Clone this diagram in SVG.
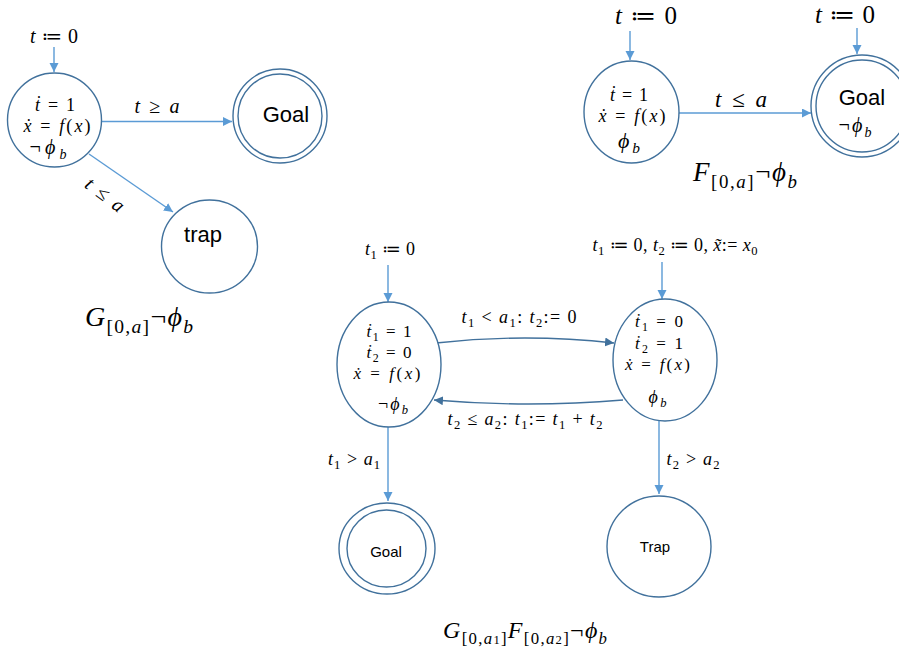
<svg xmlns="http://www.w3.org/2000/svg" width="899" height="652" viewBox="0 0 899 652">
<style>
.node{fill:#fff;stroke:#41719C;stroke-width:1.4}
.e{fill:none;stroke:#5B9BD5;stroke-width:1.4}
.e2{fill:none;stroke:#41719C;stroke-width:1.4}
.m{font-family:"Liberation Serif","DejaVu Serif",serif;text-anchor:middle;fill:#000}
.s{font-family:"Liberation Sans","Open Sans",sans-serif;text-anchor:middle;fill:#000}
.i{font-style:italic}
.sb{font-size:70%;baseline-shift:-0.35em}
</style>
<defs>
<marker id="ah" markerUnits="userSpaceOnUse" markerWidth="10" markerHeight="10" refX="9" refY="4.5" orient="auto"><path d="M0,0 L9,4.5 L0,9 z" fill="#5B9BD5"/></marker>
<marker id="ah2" markerUnits="userSpaceOnUse" markerWidth="10" markerHeight="10" refX="9" refY="4.5" orient="auto"><path d="M0,0 L9,4.5 L0,9 z" fill="#41719C"/></marker>
</defs>
<rect width="899" height="652" fill="#fff"/>

<g id="edges">
<!-- left diagram -->
<line class="e" x1="54" y1="47" x2="54" y2="72" marker-end="url(#ah)"/>
<line class="e" x1="102" y1="121.5" x2="232" y2="121.5" marker-end="url(#ah)"/>
<line class="e" x1="89" y1="154" x2="173" y2="212" marker-end="url(#ah)"/>
<text class="m" x="54" y="43" font-size="20" textLength="48"><tspan class="i">t</tspan> ≔ 0</text>
<text class="m" x="157" y="113" font-size="20" textLength="45"><tspan class="i">t</tspan> ≥ <tspan class="i">a</tspan></text>
<text class="m" x="0" y="0" font-size="20" textLength="44" transform="translate(101,200) rotate(37)"><tspan class="i">t</tspan> ≤ <tspan class="i">a</tspan></text>
<text class="m" x="139" y="326" font-size="28" textLength="108"><tspan class="i">G</tspan><tspan class="sb">[0,<tspan class="i">a</tspan>]</tspan>¬<tspan class="i">ϕ</tspan><tspan class="i sb">b</tspan></text>

<!-- top right diagram -->
<text class="m" x="646" y="24" font-size="25" textLength="62"><tspan class="i">t</tspan> ≔ 0</text>
<line class="e" x1="630" y1="31" x2="630" y2="60" marker-end="url(#ah)"/>
<text class="m" x="845" y="23" font-size="25" textLength="60"><tspan class="i">t</tspan> ≔ 0</text>
<line class="e" x1="857" y1="28" x2="857" y2="54" marker-end="url(#ah)"/>
<line class="e" x1="679" y1="113" x2="811" y2="113" marker-end="url(#ah)"/>
<text class="m" x="741" y="107" font-size="23" textLength="52"><tspan class="i">t</tspan> ≤ <tspan class="i">a</tspan></text>
<text class="m" x="745" y="181" font-size="27" textLength="104"><tspan class="i">F</tspan><tspan class="sb">[0,<tspan class="i">a</tspan>]</tspan>¬<tspan class="i">ϕ</tspan><tspan class="i sb">b</tspan></text>

<!-- bottom diagram -->
<text class="m" x="390" y="255" font-size="18" textLength="50"><tspan class="i">t</tspan><tspan class="sb">1</tspan> ≔ 0</text>
<line class="e" x1="388" y1="265" x2="388" y2="302" marker-end="url(#ah)"/>
<text class="m" x="675" y="251" font-size="18" textLength="165"><tspan class="i">t</tspan><tspan class="sb">1</tspan> ≔ 0, <tspan class="i">t</tspan><tspan class="sb">2</tspan> ≔ 0, <tspan class="i">x̃</tspan>:= <tspan class="i">x</tspan><tspan class="sb">0</tspan></text>
<line class="e" x1="662" y1="262" x2="662" y2="299" marker-end="url(#ah)"/>
<path class="e2" d="M436,343 Q525,333 614,343" marker-end="url(#ah2)"/>
<text class="m" x="519" y="323" font-size="18" textLength="115"><tspan class="i">t</tspan><tspan class="sb">1</tspan> &lt; <tspan class="i">a</tspan><tspan class="sb">1</tspan>: <tspan class="i">t</tspan><tspan class="sb">2</tspan>:= 0</text>
<path class="e2" d="M623,400 Q528,408 434,400" marker-end="url(#ah2)"/>
<text class="m" x="525" y="425" font-size="18" textLength="155"><tspan class="i">t</tspan><tspan class="sb">2</tspan> ≤ <tspan class="i">a</tspan><tspan class="sb">2</tspan>: <tspan class="i">t</tspan><tspan class="sb">1</tspan>:= <tspan class="i">t</tspan><tspan class="sb">1</tspan> + <tspan class="i">t</tspan><tspan class="sb">2</tspan></text>
<line class="e" x1="388" y1="427" x2="388" y2="501" marker-end="url(#ah)"/>
<text class="m" x="354" y="465" font-size="18" textLength="52"><tspan class="i">t</tspan><tspan class="sb">1</tspan> &gt; <tspan class="i">a</tspan><tspan class="sb">1</tspan></text>
<line class="e" x1="659" y1="421" x2="659" y2="494" marker-end="url(#ah)"/>
<text class="m" x="693" y="465" font-size="18" textLength="53"><tspan class="i">t</tspan><tspan class="sb">2</tspan> &gt; <tspan class="i">a</tspan><tspan class="sb">2</tspan></text>
<text class="m" x="525" y="638" font-size="24" textLength="164"><tspan class="i">G</tspan><tspan class="sb">[0,<tspan class="i">a</tspan><tspan style="font-size:75%">1</tspan>]</tspan><tspan class="i">F</tspan><tspan class="sb">[0,<tspan class="i">a</tspan><tspan style="font-size:75%">2</tspan>]</tspan>¬<tspan class="i">ϕ</tspan><tspan class="i sb">b</tspan></text>
</g>

<g id="n-left-init">
<ellipse class="node" cx="54.5" cy="120" rx="47" ry="47"/>
<text class="m" x="55" y="111" font-size="18" textLength="40"><tspan class="i">ṫ</tspan> = 1</text>
<text class="m" x="57" y="132" font-size="18" textLength="67"><tspan class="i">ẋ</tspan> = <tspan class="i">f</tspan>(<tspan class="i">x</tspan>)</text>
<text class="m" x="48" y="154" font-size="20" textLength="37">¬<tspan class="i">ϕ</tspan><tspan class="i sb">b</tspan></text>
</g>
<g id="n-left-goal">
<circle class="node" cx="280" cy="116" r="47"/>
<circle class="node" cx="280" cy="116" r="42"/>
<text class="s" x="286" y="122" font-size="22">Goal</text>
</g>
<g id="n-left-trap">
<ellipse class="node" cx="209.5" cy="246.5" rx="48" ry="46.5"/>
<text class="s" x="203" y="242" font-size="22">trap</text>
</g>

<g id="n-tr-init">
<ellipse class="node" cx="631.5" cy="112" rx="47.5" ry="51"/>
<text class="m" x="629" y="101" font-size="18" textLength="38"><tspan class="i">ṫ</tspan> = 1</text>
<text class="m" x="632" y="122" font-size="18" textLength="67"><tspan class="i">ẋ</tspan> = <tspan class="i">f</tspan>(<tspan class="i">x</tspan>)</text>
<text class="m" x="629" y="148" font-size="22" textLength="22"><tspan class="i">ϕ</tspan><tspan class="i sb">b</tspan></text>
</g>
<g id="n-tr-goal">
<ellipse class="node" cx="862" cy="106" rx="51" ry="51"/>
<ellipse class="node" cx="862" cy="106" rx="46" ry="46"/>
<text class="s" x="862" y="105" font-size="22">Goal</text>
<text class="m" x="855" y="132" font-size="20" textLength="33">¬<tspan class="i">ϕ</tspan><tspan class="i sb">b</tspan></text>
</g>

<g id="n-b-left">
<ellipse class="node" cx="389" cy="364.5" rx="52" ry="62.5"/>
<text class="m" x="389" y="337" font-size="17" textLength="45"><tspan class="i">ṫ</tspan><tspan class="sb">1</tspan> = 1</text>
<text class="m" x="389" y="358" font-size="17" textLength="45"><tspan class="i">ṫ</tspan><tspan class="sb">2</tspan> = 0</text>
<text class="m" x="387" y="379" font-size="17" textLength="67"><tspan class="i">ẋ</tspan> = <tspan class="i">f</tspan>(<tspan class="i">x</tspan>)</text>
<text class="m" x="393" y="410" font-size="18" textLength="30">¬<tspan class="i">ϕ</tspan><tspan class="i sb">b</tspan></text>
</g>
<g id="n-b-right">
<ellipse class="node" cx="665" cy="360" rx="52" ry="61"/>
<text class="m" x="659" y="327" font-size="17" textLength="48"><tspan class="i">ṫ</tspan><tspan class="sb">1</tspan> = 0</text>
<text class="m" x="659" y="349" font-size="17" textLength="48"><tspan class="i">ṫ</tspan><tspan class="sb">2</tspan> = 1</text>
<text class="m" x="657.5" y="370" font-size="17" textLength="65"><tspan class="i">ẋ</tspan> = <tspan class="i">f</tspan>(<tspan class="i">x</tspan>)</text>
<text class="m" x="657.5" y="403" font-size="18" textLength="18"><tspan class="i">ϕ</tspan><tspan class="i sb">b</tspan></text>
</g>
<g id="n-b-goal">
<ellipse class="node" cx="387" cy="548.5" rx="48" ry="45.5"/>
<ellipse class="node" cx="386.5" cy="548.5" rx="39.5" ry="38.5"/>
<text class="s" x="386" y="557" font-size="15">Goal</text>
</g>
<g id="n-b-trap">
<ellipse class="node" cx="659" cy="546.5" rx="52" ry="50.5"/>
<text class="s" x="655" y="552" font-size="15">Trap</text>
</g>
</svg>
